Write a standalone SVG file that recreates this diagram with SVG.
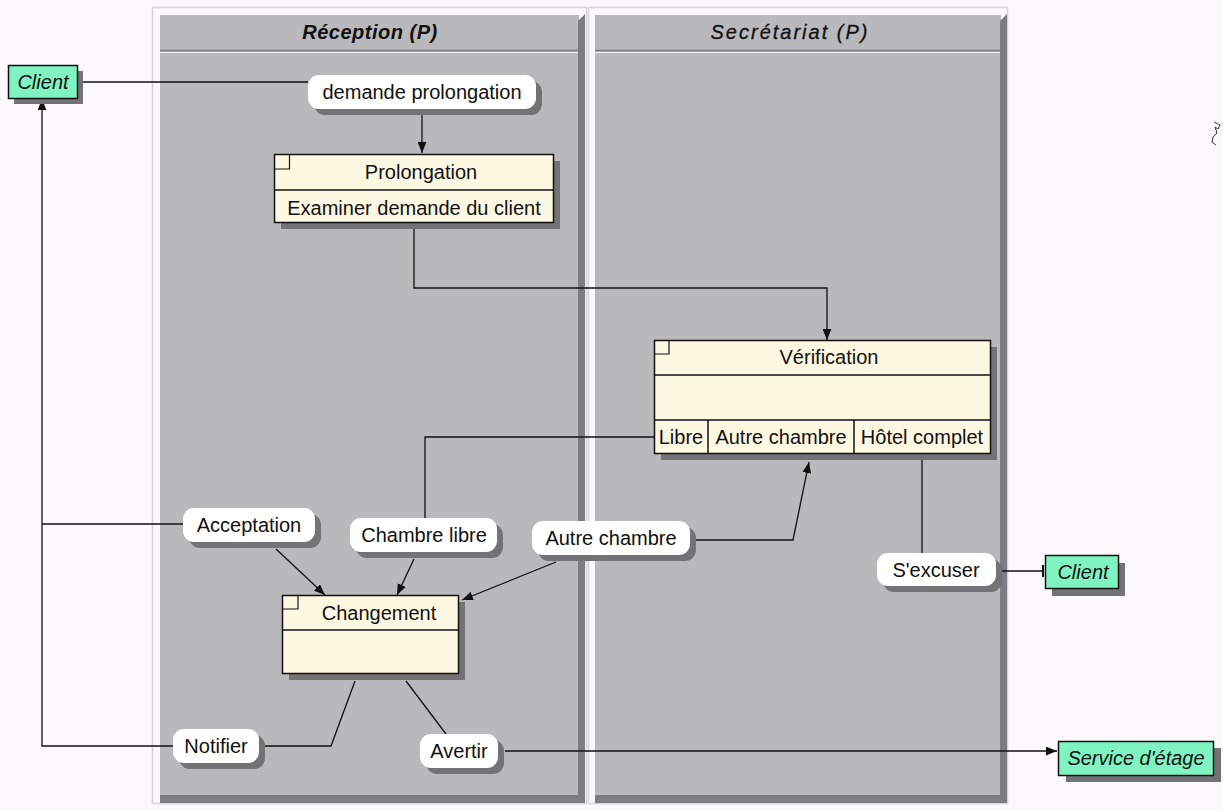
<svg xmlns="http://www.w3.org/2000/svg" width="1223" height="810" viewBox="0 0 1223 810">
  <style>
    text { font-family: "Liberation Sans", Arial, sans-serif; fill: #111; }
    .lane { fill: #b9b8bb; }
    .laneDark { fill: #7d7c80; }
    .laneLight { fill: none; stroke: #d4d3d6; stroke-width: 1.5; }
    .laneHead { font-size: 20px; font-style: italic; text-anchor: middle; }
    .shadow { fill: #737275; }
    .label { fill: #ffffff; }
    .lbl { font-size: 20px; text-anchor: middle; }
    .box { fill: #fdf8e2; stroke: #111; stroke-width: 1.5; }
    .actor { fill: #80f3c2; stroke: #111; stroke-width: 1.5; }
    .actorText { font-size: 20px; font-style: italic; text-anchor: middle; }
    .wire { fill: none; stroke: #111; stroke-width: 1.3; }
    .arrow { fill: none; stroke: #111; stroke-width: 1.3; marker-end: url(#tip); }
  </style>
  <defs>
    <marker id="tip" viewBox="0 0 10 8" refX="10" refY="4" markerWidth="11" markerHeight="9" markerUnits="userSpaceOnUse" orient="auto">
      <path d="M0,0 L10,4 L0,8 z" fill="#111"/>
    </marker>
    <marker id="bar" viewBox="0 0 2 12" refX="1" refY="6" markerWidth="2" markerHeight="12" markerUnits="userSpaceOnUse" orient="auto">
      <rect x="0" y="0" width="2" height="12" fill="#111"/>
    </marker>
  </defs>

  <rect x="0" y="0" width="1223" height="810" fill="#fcf9fc"/>

  <!-- swimlane: Réception -->
  <g id="lane-reception">
    <rect class="laneLight" x="152.5" y="7.5" width="434" height="796"/>
    <rect class="lane" x="160" y="15" width="419" height="781"/>
    <polygon class="laneDark" points="578,21 585,14 585,803 578,803"/>
    <rect class="laneDark" x="160" y="795" width="425" height="8"/>
    <line x1="160" y1="50.5" x2="578" y2="50.5" stroke="#7d7c80" stroke-width="1.5"/>
    <line x1="160" y1="52.5" x2="578" y2="52.5" stroke="#eeeeee" stroke-width="1.2"/>
    <text class="laneHead" x="370" y="39" font-weight="bold" letter-spacing="0.5">Réception (P)</text>
  </g>

  <!-- swimlane: Secrétariat -->
  <g id="lane-secretariat">
    <rect class="laneLight" x="588.5" y="7.5" width="419" height="796"/>
    <rect class="lane" x="595" y="15" width="406" height="781"/>
    <polygon class="laneDark" points="1000,21 1007,14 1007,803 1000,803"/>
    <rect class="laneDark" x="595" y="795" width="412" height="8"/>
    <line x1="595" y1="50.5" x2="1000" y2="50.5" stroke="#7d7c80" stroke-width="1.5"/>
    <line x1="595" y1="52.5" x2="1000" y2="52.5" stroke="#eeeeee" stroke-width="1.2"/>
    <text class="laneHead" x="790" y="39" letter-spacing="2" stroke="#111" stroke-width="0.3">Secrétariat (P)</text>
  </g>

  <!-- connectors -->
  <g id="connectors">
    <polyline class="wire" points="80,82 308,82"/>
    <polyline class="arrow" points="422,108 422,153"/>
    <polyline class="arrow" points="414,223 414,288 827,288 827,340"/>
    <polyline class="wire" points="654,437 425,437 425,518"/>
    <polyline class="wire" points="922,453 922,553"/>
    <polyline class="wire" points="999,571 1043,571" marker-end="url(#bar)"/>
    <polyline class="arrow" points="690,540 793,540 809,462"/>
    <polyline class="arrow" points="276,549 325,595"/>
    <polyline class="arrow" points="414,559 397,595"/>
    <polyline class="arrow" points="556,562 462,600"/>
    <polyline class="wire" points="183,524 42,524"/>
    <polyline class="arrow" points="173,746 42,746 42,99"/>
    <polyline class="wire" points="265,746 331,746 355,681"/>
    <polyline class="wire" points="446,734 406,681"/>
    <polyline class="arrow" points="505,751 1057,751"/>
  </g>

  <!-- actors -->
  <g id="client-left">
    <rect class="shadow" x="14" y="71" width="69" height="33"/>
    <rect class="actor" x="8.5" y="65.5" width="69" height="33"/>
    <text class="actorText" x="43" y="89">Client</text>
  </g>
  <g id="client-right">
    <rect class="shadow" x="1052" y="563" width="73" height="33"/>
    <rect class="actor" x="1045.5" y="555.5" width="73" height="33"/>
    <text class="actorText" x="1083" y="579">Client</text>
  </g>
  <g id="service-etage">
    <rect class="shadow" x="1066" y="748" width="155" height="34"/>
    <rect class="actor" x="1058.5" y="741.5" width="155" height="34"/>
    <text class="actorText" x="1136" y="765">Service d'étage</text>
  </g>

  <!-- messages -->
  <g id="msg-demande">
    <rect class="shadow" x="314" y="81" width="228" height="34" rx="11"/>
    <rect class="label" x="308" y="75" width="228" height="34" rx="11"/>
    <text class="lbl" x="422" y="99">demande prolongation</text>
  </g>
  <g id="msg-acceptation">
    <rect class="shadow" x="189" y="514" width="132" height="34" rx="11"/>
    <rect class="label" x="183" y="508" width="132" height="34" rx="11"/>
    <text class="lbl" x="249" y="532">Acceptation</text>
  </g>
  <g id="msg-chambre-libre">
    <rect class="shadow" x="356" y="524" width="147" height="34" rx="11"/>
    <rect class="label" x="350" y="518" width="147" height="34" rx="11"/>
    <text class="lbl" x="424" y="542">Chambre libre</text>
  </g>
  <g id="msg-autre-chambre">
    <rect class="shadow" x="538" y="527" width="158" height="34" rx="11"/>
    <rect class="label" x="532" y="521" width="158" height="34" rx="11"/>
    <text class="lbl" x="611" y="545">Autre chambre</text>
  </g>
  <g id="msg-excuser">
    <rect class="shadow" x="883" y="559" width="119" height="33" rx="11"/>
    <rect class="label" x="877" y="553" width="119" height="33" rx="11"/>
    <text class="lbl" x="936" y="577">S'excuser</text>
  </g>
  <g id="msg-notifier">
    <rect class="shadow" x="179" y="735" width="86" height="34" rx="11"/>
    <rect class="label" x="173" y="729" width="86" height="34" rx="11"/>
    <text class="lbl" x="216" y="753">Notifier</text>
  </g>
  <g id="msg-avertir">
    <rect class="shadow" x="426" y="740" width="78" height="34" rx="11"/>
    <rect class="label" x="420" y="734" width="78" height="34" rx="11"/>
    <text class="lbl" x="459" y="758">Avertir</text>
  </g>

  <!-- processes -->
  <g id="proc-prolongation">
    <rect class="shadow" x="281" y="161" width="279" height="68"/>
    <rect class="box" x="274.5" y="154.5" width="279" height="68"/>
    <line x1="274.5" y1="190" x2="553.5" y2="190" stroke="#111" stroke-width="1.5"/>
    <polyline points="274.5,169 289.5,169 289.5,154.5" fill="none" stroke="#111" stroke-width="1.2"/>
    <text class="lbl" x="421" y="179">Prolongation</text>
    <text class="lbl" x="414" y="215">Examiner demande du client</text>
  </g>
  <g id="proc-verification">
    <rect class="shadow" x="661" y="347" width="336" height="113"/>
    <rect class="box" x="654.5" y="340.5" width="336" height="113"/>
    <line x1="654.5" y1="375" x2="990.5" y2="375" stroke="#111" stroke-width="1.5"/>
    <line x1="654.5" y1="420" x2="990.5" y2="420" stroke="#111" stroke-width="1.5"/>
    <line x1="708" y1="420" x2="708" y2="453.5" stroke="#111" stroke-width="1.5"/>
    <line x1="854" y1="420" x2="854" y2="453.5" stroke="#111" stroke-width="1.5"/>
    <polyline points="654.5,354 669,354 669,340.5" fill="none" stroke="#111" stroke-width="1.2"/>
    <text class="lbl" x="829" y="364">Vérification</text>
    <text class="lbl" x="681" y="444">Libre</text>
    <text class="lbl" x="781" y="444">Autre chambre</text>
    <text class="lbl" x="922" y="444">Hôtel complet</text>
  </g>
  <g id="proc-changement">
    <rect class="shadow" x="289" y="602" width="176" height="78"/>
    <rect class="box" x="282.5" y="595.5" width="176" height="78"/>
    <line x1="282.5" y1="630" x2="458.5" y2="630" stroke="#111" stroke-width="1.5"/>
    <polyline points="282.5,609 298,609 298,595.5" fill="none" stroke="#111" stroke-width="1.2"/>
    <text class="lbl" x="379" y="620">Changement</text>
  </g>

  <!-- stray pointer mark at the top right -->
  <path d="M1214,122 l6,3 l-2,4 l-3,-2 l2,6 l-4,4 l-1,5 l4,3" fill="none" stroke="#333" stroke-width="1"/>
</svg>
